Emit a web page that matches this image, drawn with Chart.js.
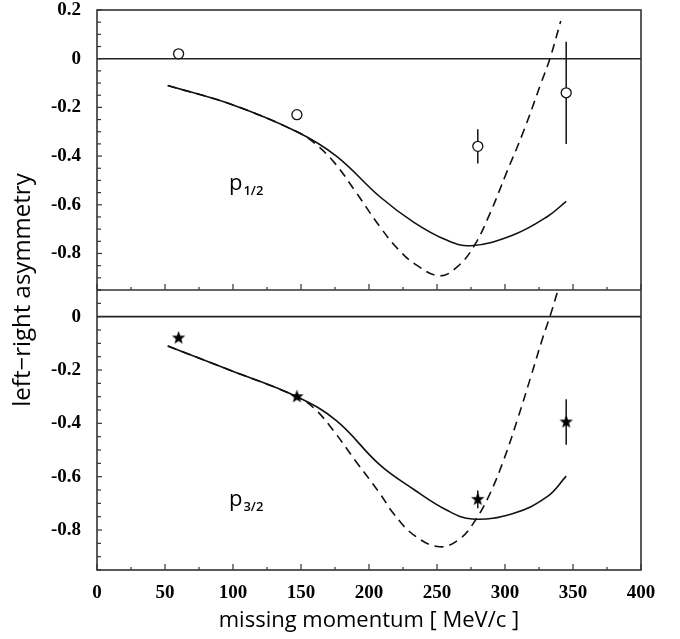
<!DOCTYPE html>
<html>
<head>
<meta charset="utf-8">
<title>left-right asymmetry</title>
<script src="https://cdn.jsdelivr.net/npm/chart.js@4.4.1/dist/chart.umd.min.js"></script>
<style>
  html, body { margin: 0; padding: 0; background: #fff; }
  #wrap { width: 680px; height: 639px; }
</style>
</head>
<body>
<div id="wrap"><canvas id="asymChart" width="680" height="639"></canvas></div>
<script>
// tick labels
const xTickLabels = [0, 50, 100, 150, 200, 250, 300, 350, 400];
const yTickLabels = [0.2, 0, -0.2, -0.4, -0.6, -0.8];

// p1/2 data (open circles)
const p12X = [60, 147, 280, 345];
const p12Y = [0.02, -0.23, -0.36, -0.14];
const p12Err = [0, 0, 0.07, 0.21];

// p1/2 solid curve
const p12SolidX = [52, 100, 147, 176, 208, 233, 257, 275, 306, 331, 345];
const p12SolidY = [-0.11, -0.19, -0.30, -0.40, -0.567, -0.672, -0.745, -0.768, -0.724, -0.649, -0.586];

// p1/2 dashed curve
const p12DashX = [52, 100, 147, 160, 175, 190, 208, 222, 235, 252, 265, 277, 289, 301, 314, 326, 333, 341];
const p12DashY = [-0.11, -0.19, -0.30, -0.347, -0.43, -0.545, -0.69, -0.786, -0.848, -0.892, -0.854, -0.772, -0.635, -0.47, -0.293, -0.108, 0.0, 0.155];

// p3/2 data (stars)
const p32X = [60, 147, 280, 345];
const p32Y = [-0.08, -0.30, -0.685, -0.395];
const p32Err = [0, 0, 0.033, 0.085];

// p3/2 solid curve
const p32SolidX = [52, 97.5, 147, 176, 208, 233, 257, 276, 306, 331, 345];
const p32SolidY = [-0.11, -0.20, -0.30, -0.39, -0.556, -0.648, -0.725, -0.759, -0.738, -0.675, -0.598];

// p3/2 dashed curve
const p32DashX = [52, 97.5, 147, 160, 173.5, 190, 208, 218, 233, 252, 267, 279, 289, 299, 309, 319, 328, 333, 339];
const p32DashY = [-0.11, -0.20, -0.30, -0.345, -0.425, -0.54, -0.663, -0.738, -0.819, -0.863, -0.832, -0.757, -0.663, -0.538, -0.388, -0.225, -0.075, 0.0, 0.1];

const ink = '#111';
const sansFamily = "'Open Sans', sans-serif";
const tickFont = { family: "'Liberation Serif', serif", size: 19, weight: 'bold', lineHeight: 1 };

const toPoints = (xs, ys) => xs.map((x, i) => ({ x: x, y: ys[i] }));

const isLabel = (list, v) => list.some(l => Math.abs(l - v) < 1e-6);

// filled five-point star used as marker
const starMarker = document.createElement('canvas');
starMarker.width = 15;
starMarker.height = 15;
(function () {
    const c = starMarker.getContext('2d');
    c.beginPath();
    for (let i = 0; i < 10; i++) {
        const r = i % 2 === 0 ? 7 : 2.9;
        const a = -Math.PI / 2 + i * Math.PI / 5;
        c.lineTo(7.5 + r * Math.cos(a), 7.5 + r * Math.sin(a));
    }
    c.closePath();
    c.fillStyle = '#000';
    c.fill();
})();

const curve = (xs, ys, axis, dashed) => ({
    data: toPoints(xs, ys),
    yAxisID: axis,
    borderColor: ink,
    borderWidth: 1.6,
    borderDash: dashed ? [9, 6] : [],
    pointRadius: 0,
    tension: 0.4,
    fill: false,
    order: 3
});

const errorBars = (xs, ys, errs, axis) => xs
    .map((x, i) => errs[i] > 0 ? {
        data: [{ x: x, y: ys[i] - errs[i] }, { x: x, y: ys[i] + errs[i] }],
        yAxisID: axis,
        borderColor: ink,
        borderWidth: 1.5,
        pointRadius: 0,
        order: 2
    } : null)
    .filter(Boolean);

const yAxis = (min, max) => ({
    type: 'linear',
    position: 'left',
    stack: 'panels',
    stackWeight: 1,
    min: min,
    max: max,
    grid: { display: false, drawTicks: false },
    border: { display: false },
    ticks: {
        stepSize: 0.05,
        autoSkip: false,
        padding: 16,
        color: '#000',
        font: tickFont,
        callback: v => isLabel(yTickLabels, v) ? (Math.abs(v) < 1e-6 ? '0' : v.toFixed(1)) : ''
    },
    afterFit: s => {
        s.width = 97;
        s.paddingTop = 0;
        s.paddingBottom = 0;
    }
});

// frame, inward ticks, zero lines and labels
const panelPlugin = {
    id: 'panelPlugin',
    beforeDatasetsDraw(chart) {
        const { ctx, chartArea: a, scales } = chart;
        ctx.save();
        ctx.strokeStyle = '#222';
        ctx.lineWidth = 1.6;
        [scales.yT, scales.yB].forEach(s => {
            const py = s.getPixelForValue(0);
            ctx.beginPath();
            ctx.moveTo(a.left, py);
            ctx.lineTo(a.right, py);
            ctx.stroke();
        });
        ctx.restore();
    },
    afterDatasetsDraw(chart) {
        const { ctx, chartArea: a, scales } = chart;
        ctx.save();
        ctx.strokeStyle = '#333';
        ctx.lineWidth = 1.6;
        ctx.strokeRect(a.left, a.top, a.width, a.height);
        ctx.beginPath();
        ctx.moveTo(a.left, scales.yT.bottom);
        ctx.lineTo(a.right, scales.yT.bottom);
        ctx.stroke();

        ctx.lineWidth = 1.2;
        [scales.yT, scales.yB].forEach(s => {
            s.ticks.forEach(t => {
                const py = s.getPixelForValue(t.value);
                const len = t.label ? 5 : 4;
                ctx.beginPath();
                ctx.moveTo(a.left, py);
                ctx.lineTo(a.left + len, py);
                ctx.stroke();
            });
        });
        [scales.yT.bottom, scales.yB.bottom].forEach(by => {
            scales.x.ticks.forEach(t => {
                const px = scales.x.getPixelForValue(t.value);
                const len = t.label ? 6 : 3;
                ctx.beginPath();
                ctx.moveTo(px, by);
                ctx.lineTo(px, by - len);
                ctx.stroke();
            });
        });

        // y axis title across both panels
        ctx.fillStyle = '#000';
        ctx.font = '24px ' + sansFamily;
        ctx.textAlign = 'center';
        ctx.textBaseline = 'middle';
        ctx.translate(23, (a.top + a.bottom) / 2);
        ctx.rotate(-Math.PI / 2);
        ctx.fillText('left\u2212right asymmetry', 0, 0);
        ctx.setTransform(1, 0, 0, 1, 0, 0);

        // panel labels
        const label = (sub, s, xv, yv) => {
            const px = scales.x.getPixelForValue(xv);
            const py = s.getPixelForValue(yv);
            ctx.textAlign = 'left';
            ctx.textBaseline = 'alphabetic';
            ctx.font = '22px ' + sansFamily;
            ctx.fillText('p', px, py);
            const w = ctx.measureText('p').width;
            ctx.font = '600 13px ' + sansFamily;
            ctx.fillText(sub, px + w + 1, py + 5);
        };
        label('1/2', scales.yT, 97, -0.54);
        label('3/2', scales.yB, 97, -0.71);
        ctx.restore();
    }
};

new Chart(document.getElementById('asymChart'), {
    type: 'line',
    data: {
        datasets: [
            curve(p12SolidX, p12SolidY, 'yT', false),
            curve(p12DashX, p12DashY, 'yT', true),
            curve(p32SolidX, p32SolidY, 'yB', false),
            curve(p32DashX, p32DashY, 'yB', true),
            ...errorBars(p12X, p12Y, p12Err, 'yT'),
            ...errorBars(p32X, p32Y, p32Err, 'yB'),
            {
                data: toPoints(p12X, p12Y),
                yAxisID: 'yT',
                showLine: false,
                pointStyle: 'circle',
                pointRadius: 5,
                pointBorderWidth: 1.3,
                pointBorderColor: ink,
                pointBackgroundColor: '#fff',
                order: 0
            },
            {
                data: toPoints(p32X, p32Y),
                yAxisID: 'yB',
                showLine: false,
                pointStyle: starMarker,
                pointRadius: 7,
                order: 0
            }
        ]
    },
    options: {
        responsive: false,
        animation: false,
        events: [],
        layout: { padding: { left: 0, right: 39, top: 10, bottom: 0 } },
        plugins: {
            legend: { display: false },
            tooltip: { enabled: false }
        },
        scales: {
            x: {
                type: 'linear',
                min: 0,
                max: 400,
                grid: { display: false, drawTicks: false },
                border: { display: false },
                ticks: {
                    stepSize: 25,
                    autoSkip: false,
                    maxRotation: 0,
                    padding: 14,
                    color: '#000',
                    font: tickFont,
                    callback: v => isLabel(xTickLabels, v) ? String(v) : ''
                },
                title: {
                    display: true,
                    text: 'missing momentum [ MeV/c ]',
                    color: '#000',
                    font: { family: sansFamily, size: 22, lineHeight: 1.2 },
                    padding: { top: 0, bottom: 5 }
                },
                afterFit: s => { s.height = 69; }
            },
            yB: yAxis(-0.95, 0.1),
            yT: yAxis(-0.95, 0.2)
        }
    },
    plugins: [panelPlugin]
});
</script>
</body>
</html>
